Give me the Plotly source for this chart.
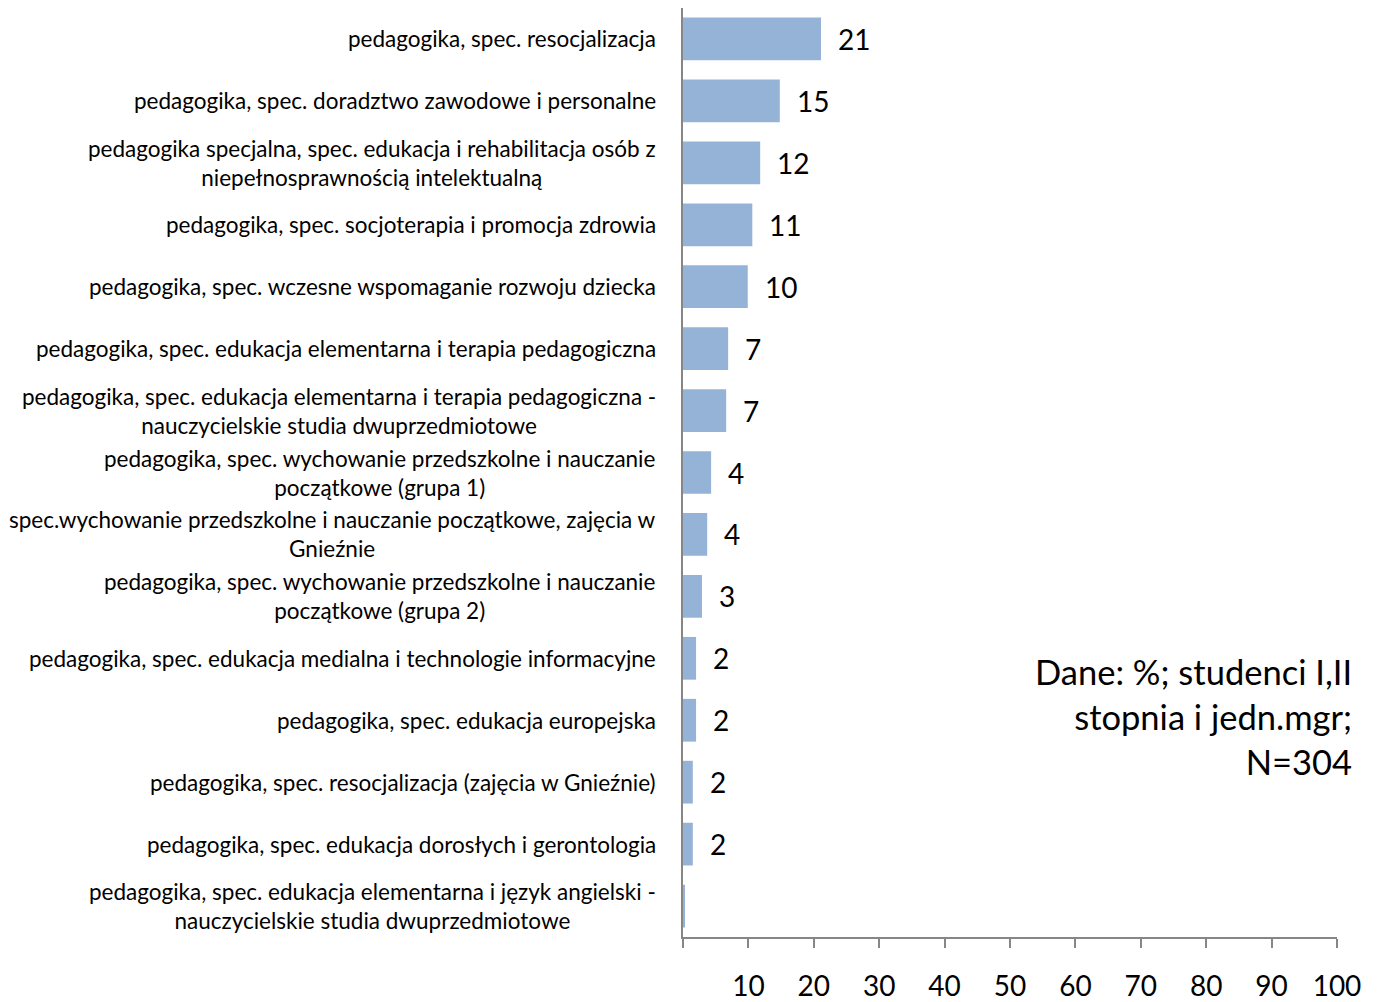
import plotly.graph_objects as go

categories = [
    "pedagogika, spec. resocjalizacja",
    "pedagogika, spec. doradztwo zawodowe i personalne",
    "pedagogika specjalna, spec. edukacja i rehabilitacja osób z<br>niepełnosprawnością intelektualną",
    "pedagogika, spec. socjoterapia i promocja zdrowia",
    "pedagogika, spec. wczesne wspomaganie rozwoju dziecka",
    "pedagogika, spec. edukacja elementarna i terapia pedagogiczna",
    "pedagogika, spec. edukacja elementarna i terapia pedagogiczna -<br>nauczycielskie studia dwuprzedmiotowe",
    "pedagogika, spec. wychowanie przedszkolne i nauczanie<br>początkowe (grupa 1)",
    "spec.wychowanie przedszkolne i nauczanie początkowe, zajęcia w<br>Gnieźnie",
    "pedagogika, spec. wychowanie przedszkolne i nauczanie<br>początkowe (grupa 2)",
    "pedagogika, spec. edukacja medialna i technologie informacyjne",
    "pedagogika, spec. edukacja europejska",
    "pedagogika, spec. resocjalizacja (zajęcia w Gnieźnie)",
    "pedagogika, spec. edukacja dorosłych i gerontologia",
    "pedagogika, spec. edukacja elementarna i język angielski -<br>nauczycielskie studia dwuprzedmiotowe",
]
values = [21.1, 14.8, 11.8, 10.6, 9.9, 6.9, 6.6, 4.3, 3.7, 2.9, 2.0, 2.0, 1.5, 1.5, 0.3]
value_labels = ["21", "15", "12", "11", "10", "7", "7", "4", "4", "3", "2", "2", "2", "2", ""]
tick_vals = [0, 10, 20, 30, 40, 50, 60, 70, 80, 90, 100]
tick_text = ["", "10", "20", "30", "40", "50", "60", "70", "80", "90", "100"]
note = "Dane: %; studenci I,II<br>stopnia i jedn.mgr;<br>N=304"

font_family = "Lato, 'Open Sans', sans-serif"
axis_color = "#868686"

fig = go.Figure(go.Bar(
    x=values, y=categories, orientation="h",
    marker=dict(color="#95B3D7", line=dict(width=0)),
    hoverinfo="x+y",
))

# category labels: centred lines, right edge next to the axis
for cat in categories:
    fig.add_annotation(text=cat, x=0, y=cat, xref="x", yref="y",
                       xanchor="right", xshift=-25, align="center",
                       showarrow=False,
                       font=dict(family=font_family, size=22.5, color="#000000"))

# value labels right of each bar
for v, lab, cat in zip(values, value_labels, categories):
    if lab:
        fig.add_annotation(text=lab, x=v, y=cat, xref="x", yref="y",
                           xanchor="left", xshift=15, showarrow=False,
                           font=dict(family=font_family, size=28, color="#000000"))

fig.add_annotation(text=note, x=1.026, y=0.237, xref="paper", yref="paper",
                   xanchor="right", yanchor="middle", align="right",
                   showarrow=False,
                   font=dict(family=font_family, size=34.5, color="#000000"))

# page body adds 8px around the figure, so size it to fill the window
fig.update_layout(
    width=1375, height=994,
    margin=dict(l=675, r=46, t=0, b=65, autoexpand=False),
    paper_bgcolor="white", plot_bgcolor="white",
    bargap=0.31,
    showlegend=False,
    font=dict(family=font_family, color="#000000"),
    xaxis=dict(range=[0, 100], tickvals=tick_vals, ticktext=tick_text,
               showgrid=False, zeroline=False, showline=True,
               linecolor=axis_color, linewidth=2, automargin=False,
               ticks="outside", ticklen=9, tickwidth=2, tickcolor=axis_color,
               ticklabelstandoff=14,
               tickfont=dict(family=font_family, size=28, color="#000000")),
    yaxis=dict(categoryorder="array", categoryarray=categories,
               autorange="reversed", showticklabels=False, automargin=False,
               showgrid=False, zeroline=False, showline=True,
               linecolor=axis_color, linewidth=2, ticks=""),
)

fig.write_html("out.html")
